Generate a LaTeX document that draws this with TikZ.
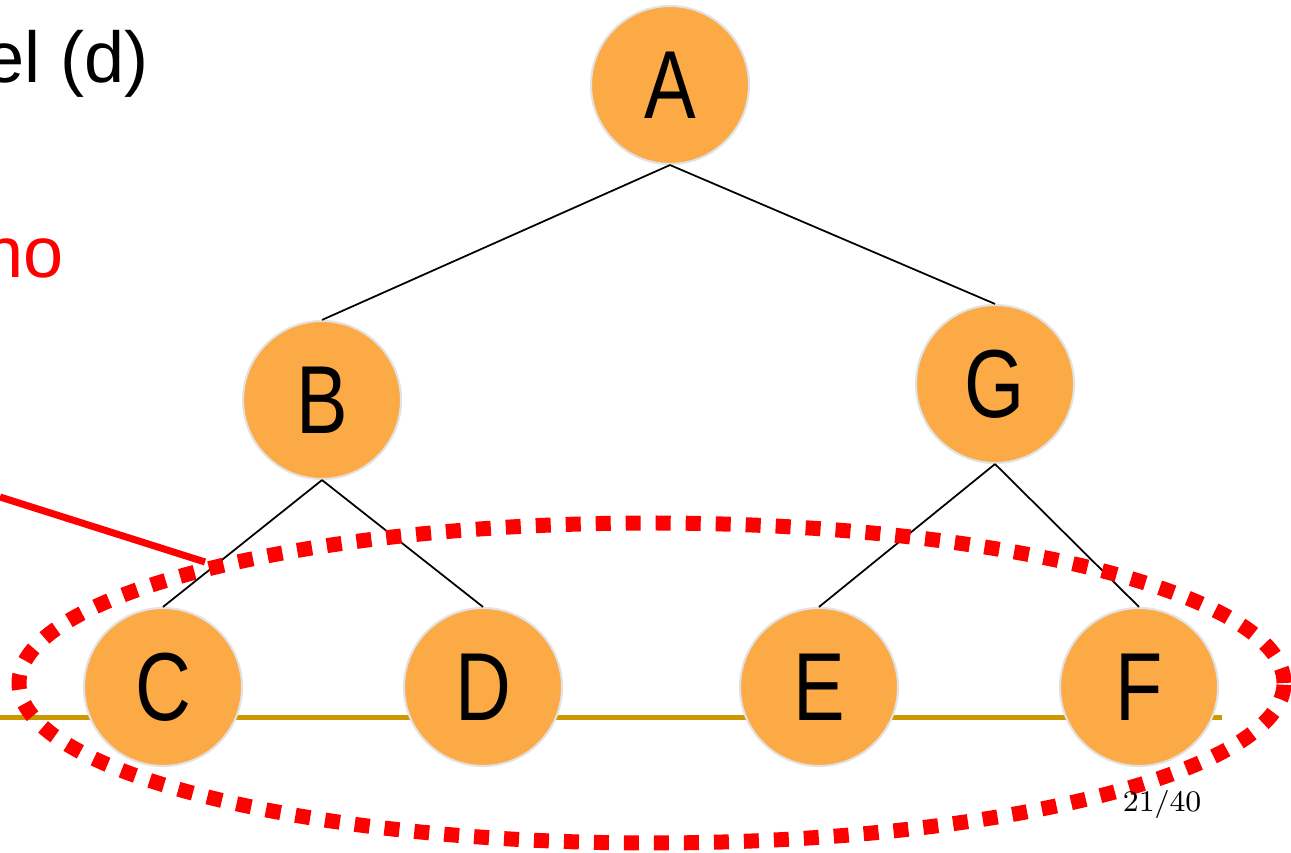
\documentclass[tikz,border=0pt]{standalone}
\usepackage{fontspec}
\setmainfont{Liberation Sans}
\newfontfamily\narrowfont[FakeStretch=0.8]{Liberation Sans}
\newfontfamily\lmfont{Latin Modern Roman}
\usetikzlibrary{shapes.geometric}
\definecolor{nodeorange}{HTML}{FBAA45}
\definecolor{nodeedge}{HTML}{E2E2E2}
\definecolor{levelgold}{HTML}{CC9900}
\definecolor{markred}{HTML}{FF0000}
\tikzset{
	treenode/.style={circle, fill=nodeorange, draw=nodeedge, line width=0.6pt, minimum size=1.58cm, inner sep=0pt, font=\narrowfont\fontsize{27.5}{30}\selectfont},
	treeedge/.style={draw=black, line width=0.5pt},
	bigtext/.style={inner sep=0pt, font=\fontsize{20.5}{24}\selectfont}
}

\begin{document}
\begin{tikzpicture}
		\useasboundingbox (0,0) rectangle (12.91,8.52);
		% level line
		\coordinate (lvlL) at (0,1.345);
		\coordinate (lvlR) at (12.22,1.345);
		\draw[levelgold, line width=0.45mm] (lvlL) -- (lvlR);
		% tree
		\node[treenode] (A) at (6.70,7.67) {A};
		\node[treenode] (B) at (3.22,4.52) {B};
		\node[treenode] (G) at (9.95,4.68) {G};
		\foreach \name/\x in {C/1.63, D/4.83, E/8.19, F/11.39}
		\node[treenode] (\name) at (\x,1.65) {\name};
		\foreach \from/\to in {A/B, A/G, B/C, B/D, G/E, G/F}
		\draw[treeedge] (\from.south) -- (\to.north);
		% texts on the left
		\node[bigtext, anchor=base east] (model) at (1.49,7.69) {el (d)};
		\node[bigtext, anchor=base east, text=markred] (hint) at (0.64,5.74) {no};
		% pointer and dotted ring
		\coordinate (ptrA) at (0,3.55);
		\coordinate (ptrB) at (2.05,2.90);
		\draw[markred, line width=0.07cm] (ptrA) -- (ptrB);
		\node[ellipse, draw=markred, line width=0.15cm, dash pattern=on 0.15cm off 0.15cm, minimum width=12.65cm, minimum height=3.20cm, inner sep=0pt] (ring) at (6.515,1.69) {};
		% page number
		\node[inner sep=0pt, anchor=base east, font=\lmfont\fontsize{8.5}{10}\selectfont] (page) at (12.02,0.40) {21$/$40};
	\end{tikzpicture}
\end{document}
